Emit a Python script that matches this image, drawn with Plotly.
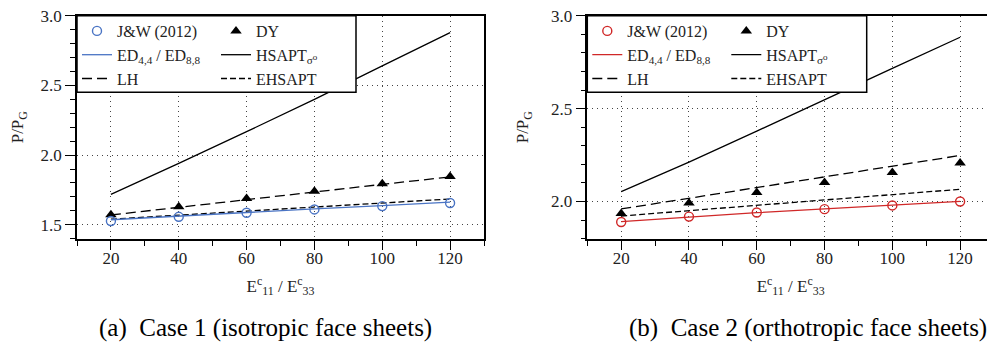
import plotly.graph_objects as go

# ---------------- data ----------------
ratio = [20, 40, 60, 80, 100, 120]

# Case 1 (isotropic face sheets)
a_jw = [1.527, 1.557, 1.586, 1.610, 1.634, 1.656]
a_ed = [1.536, 1.563, 1.590, 1.614, 1.638, 1.662]
a_dy = [1.572, 1.630, 1.688, 1.740, 1.794, 1.847]
a_hsapt = [1.718, 1.940, 2.168, 2.400, 2.640, 2.878]
a_lh = [1.570, 1.626, 1.682, 1.736, 1.790, 1.843]
a_ehsapt = [1.540, 1.570, 1.600, 1.628, 1.656, 1.685]

# Case 2 (orthotropic face sheets)
b_jw = [1.890, 1.919, 1.941, 1.959, 1.979, 2.000]
b_ed = [1.892, 1.918, 1.940, 1.960, 1.980, 2.001]
b_dy = [1.935, 1.992, 2.048, 2.102, 2.156, 2.208]
b_hsapt = [2.053, 2.212, 2.379, 2.550, 2.717, 2.884]
b_lh = [1.960, 2.018, 2.075, 2.133, 2.190, 2.248]
b_ehsapt = [1.922, 1.951, 1.980, 2.008, 2.037, 2.066]

x_ticks = [20, 40, 60, 80, 100, 120]
x_minor = [10, 30, 50, 70, 90, 110, 130]
a_yticks = [1.5, 2.0, 2.5, 3.0]
b_yticks = [2.0, 2.5, 3.0]

BLUE = "#4a74c4"
RED = "#d02828"
FONT = "Liberation Serif, DejaVu Serif, Times New Roman, serif"

# the page adds an 8 px body margin; size the figure so it fits the 995x342 window
OFF = 8
W, H = 995 - OFF, 342 - OFF


def px(xp):  # window x pixel -> paper fraction
    return (xp - OFF) / W


def py(yp):  # window y pixel (from top) -> paper fraction
    return 1 - (yp - OFF) / H


fig = go.Figure()


def add_panel(xa, ya, jw, ed, dy, hs, lh, eh, col, lg1, lg2):
    fig.add_trace(go.Scatter(x=ratio, y=hs, mode="lines", name="HSAPT<sub>σ⁰</sub>",
                             line=dict(color="black", width=1.3), xaxis=xa, yaxis=ya, legend=lg2,
                             legendrank=2))
    fig.add_trace(go.Scatter(x=ratio, y=lh, mode="lines", name="LH",
                             line=dict(color="black", width=1.3, dash="10px,5px"), xaxis=xa, yaxis=ya,
                             legend=lg1, legendrank=3))
    fig.add_trace(go.Scatter(x=ratio, y=eh, mode="lines", name="EHSAPT",
                             line=dict(color="black", width=1.3, dash="6px,3px"), xaxis=xa, yaxis=ya,
                             legend=lg2, legendrank=3))
    fig.add_trace(go.Scatter(x=ratio, y=ed, mode="lines", name="ED<sub>4,4</sub> / ED<sub>8,8</sub>",
                             line=dict(color=col, width=1.3), xaxis=xa, yaxis=ya, legend=lg1,
                             legendrank=2))
    fig.add_trace(go.Scatter(x=ratio, y=dy, mode="markers", name="DY",
                             marker=dict(symbol="triangle-up", size=10, color="black"),
                             xaxis=xa, yaxis=ya, legend=lg2, legendrank=1))
    fig.add_trace(go.Scatter(x=ratio, y=jw, mode="markers", name="J&W (2012)",
                             marker=dict(symbol="circle-open", size=9, color=col, line=dict(width=1.4)),
                             xaxis=xa, yaxis=ya, legend=lg1, legendrank=1))


add_panel("x", "y", a_jw, a_ed, a_dy, a_hsapt, a_lh, a_ehsapt, BLUE, "legend", "legend2")
add_panel("x2", "y2", b_jw, b_ed, b_dy, b_hsapt, b_lh, b_ehsapt, RED, "legend3", "legend4")

y_dom = [py(238.7), py(15.7)]
xa_dom = [px(77), px(484)]
xb_dom = [px(587.3), min(1.0, px(994))]

GRID = dict(showgrid=True, gridcolor="#444444", griddash="1px,4px", gridwidth=1.2)
TICKFONT = dict(family=FONT, size=17, color="#222")

common_x = dict(range=[10, 130], tickvals=x_ticks, ticks="outside", ticklen=10, tickwidth=1.3,
                tickcolor="black", showline=True, linecolor="black", linewidth=1.5, mirror=True,
                zeroline=False, tickfont=TICKFONT, ticklabeloverflow="allow",
                ticklabelstandoff=-7,
                minor=dict(tickvals=x_minor, ticks="outside", ticklen=6, tickwidth=1.3,
                           tickcolor="black", showgrid=False),
                title=dict(text="E<sup>c</sup><sub>11</sub> / E<sup>c</sup><sub>33</sub>",
                           font=dict(family=FONT, size=17, color="#222"), standoff=13),
                **GRID)


def yaxis(rng, tv, dom):
    return dict(range=rng, tickvals=tv, ticktext=[f"{v:.1f}" for v in tv], domain=dom,
                ticks="outside", ticklen=10, tickwidth=1.3, tickcolor="black",
                showline=True, linecolor="black", linewidth=1.5, mirror=True,
                zeroline=False, tickfont=TICKFONT, ticklabeloverflow="allow",
                minor=dict(dtick=0.1, tick0=0, ticks="outside", ticklen=5, tickwidth=1.3,
                           tickcolor="black", showgrid=False),
                title=dict(text="P/P<sub>G</sub>", font=dict(family=FONT, size=17, color="#222"),
                           standoff=18),
                **GRID)


fig.update_layout(
    width=W, height=H, margin=dict(l=0, r=0, t=0, b=0, autoexpand=False),
    paper_bgcolor="white", plot_bgcolor="white",
    font=dict(family=FONT, size=16, color="#222"),
    xaxis=dict(domain=xa_dom, anchor="y", **common_x),
    xaxis2=dict(domain=xb_dom, anchor="y2", **common_x),
    yaxis=dict(anchor="x", **yaxis([1.4, 3.0], a_yticks, y_dom)),
    yaxis2=dict(anchor="x2", **yaxis([1.8, 3.0], b_yticks, y_dom)),
)

leg_common = dict(bgcolor="rgba(0,0,0,0)", borderwidth=0, yanchor="top", xanchor="left",
                  font=dict(family=FONT, size=16, color="#222"), tracegroupgap=0,
                  traceorder="normal")
ytop = py(14)
fig.update_layout(
    legend=dict(x=px(77), y=ytop, **leg_common),
    legend2=dict(x=px(216), y=ytop, **leg_common),
    legend3=dict(x=px(587.3), y=ytop, **leg_common),
    legend4=dict(x=px(726.3), y=ytop, **leg_common),
)

# legend boxes
for x0, x1 in [(77, 356), (587.3, 866.7)]:
    fig.add_shape(type="rect", xref="paper", yref="paper", x0=px(x0), x1=px(x1),
                  y0=py(92.3), y1=py(15.7), fillcolor="white",
                  line=dict(color="black", width=1.5), layer="above")

# sub-captions
fig.add_annotation(text="(a)\u2002Case 1 (isotropic face sheets)", x=px(265), y=py(328),
                   xref="paper", yref="paper", showarrow=False, xanchor="center", yanchor="middle",
                   font=dict(family=FONT, size=25, color="black"))
fig.add_annotation(text="(b)\u2002Case 2 (orthotropic face sheets)", x=px(808), y=py(328),
                   xref="paper", yref="paper", showarrow=False, xanchor="center", yanchor="middle",
                   font=dict(family=FONT, size=25, color="black"))

fig.write_html("out.html")
